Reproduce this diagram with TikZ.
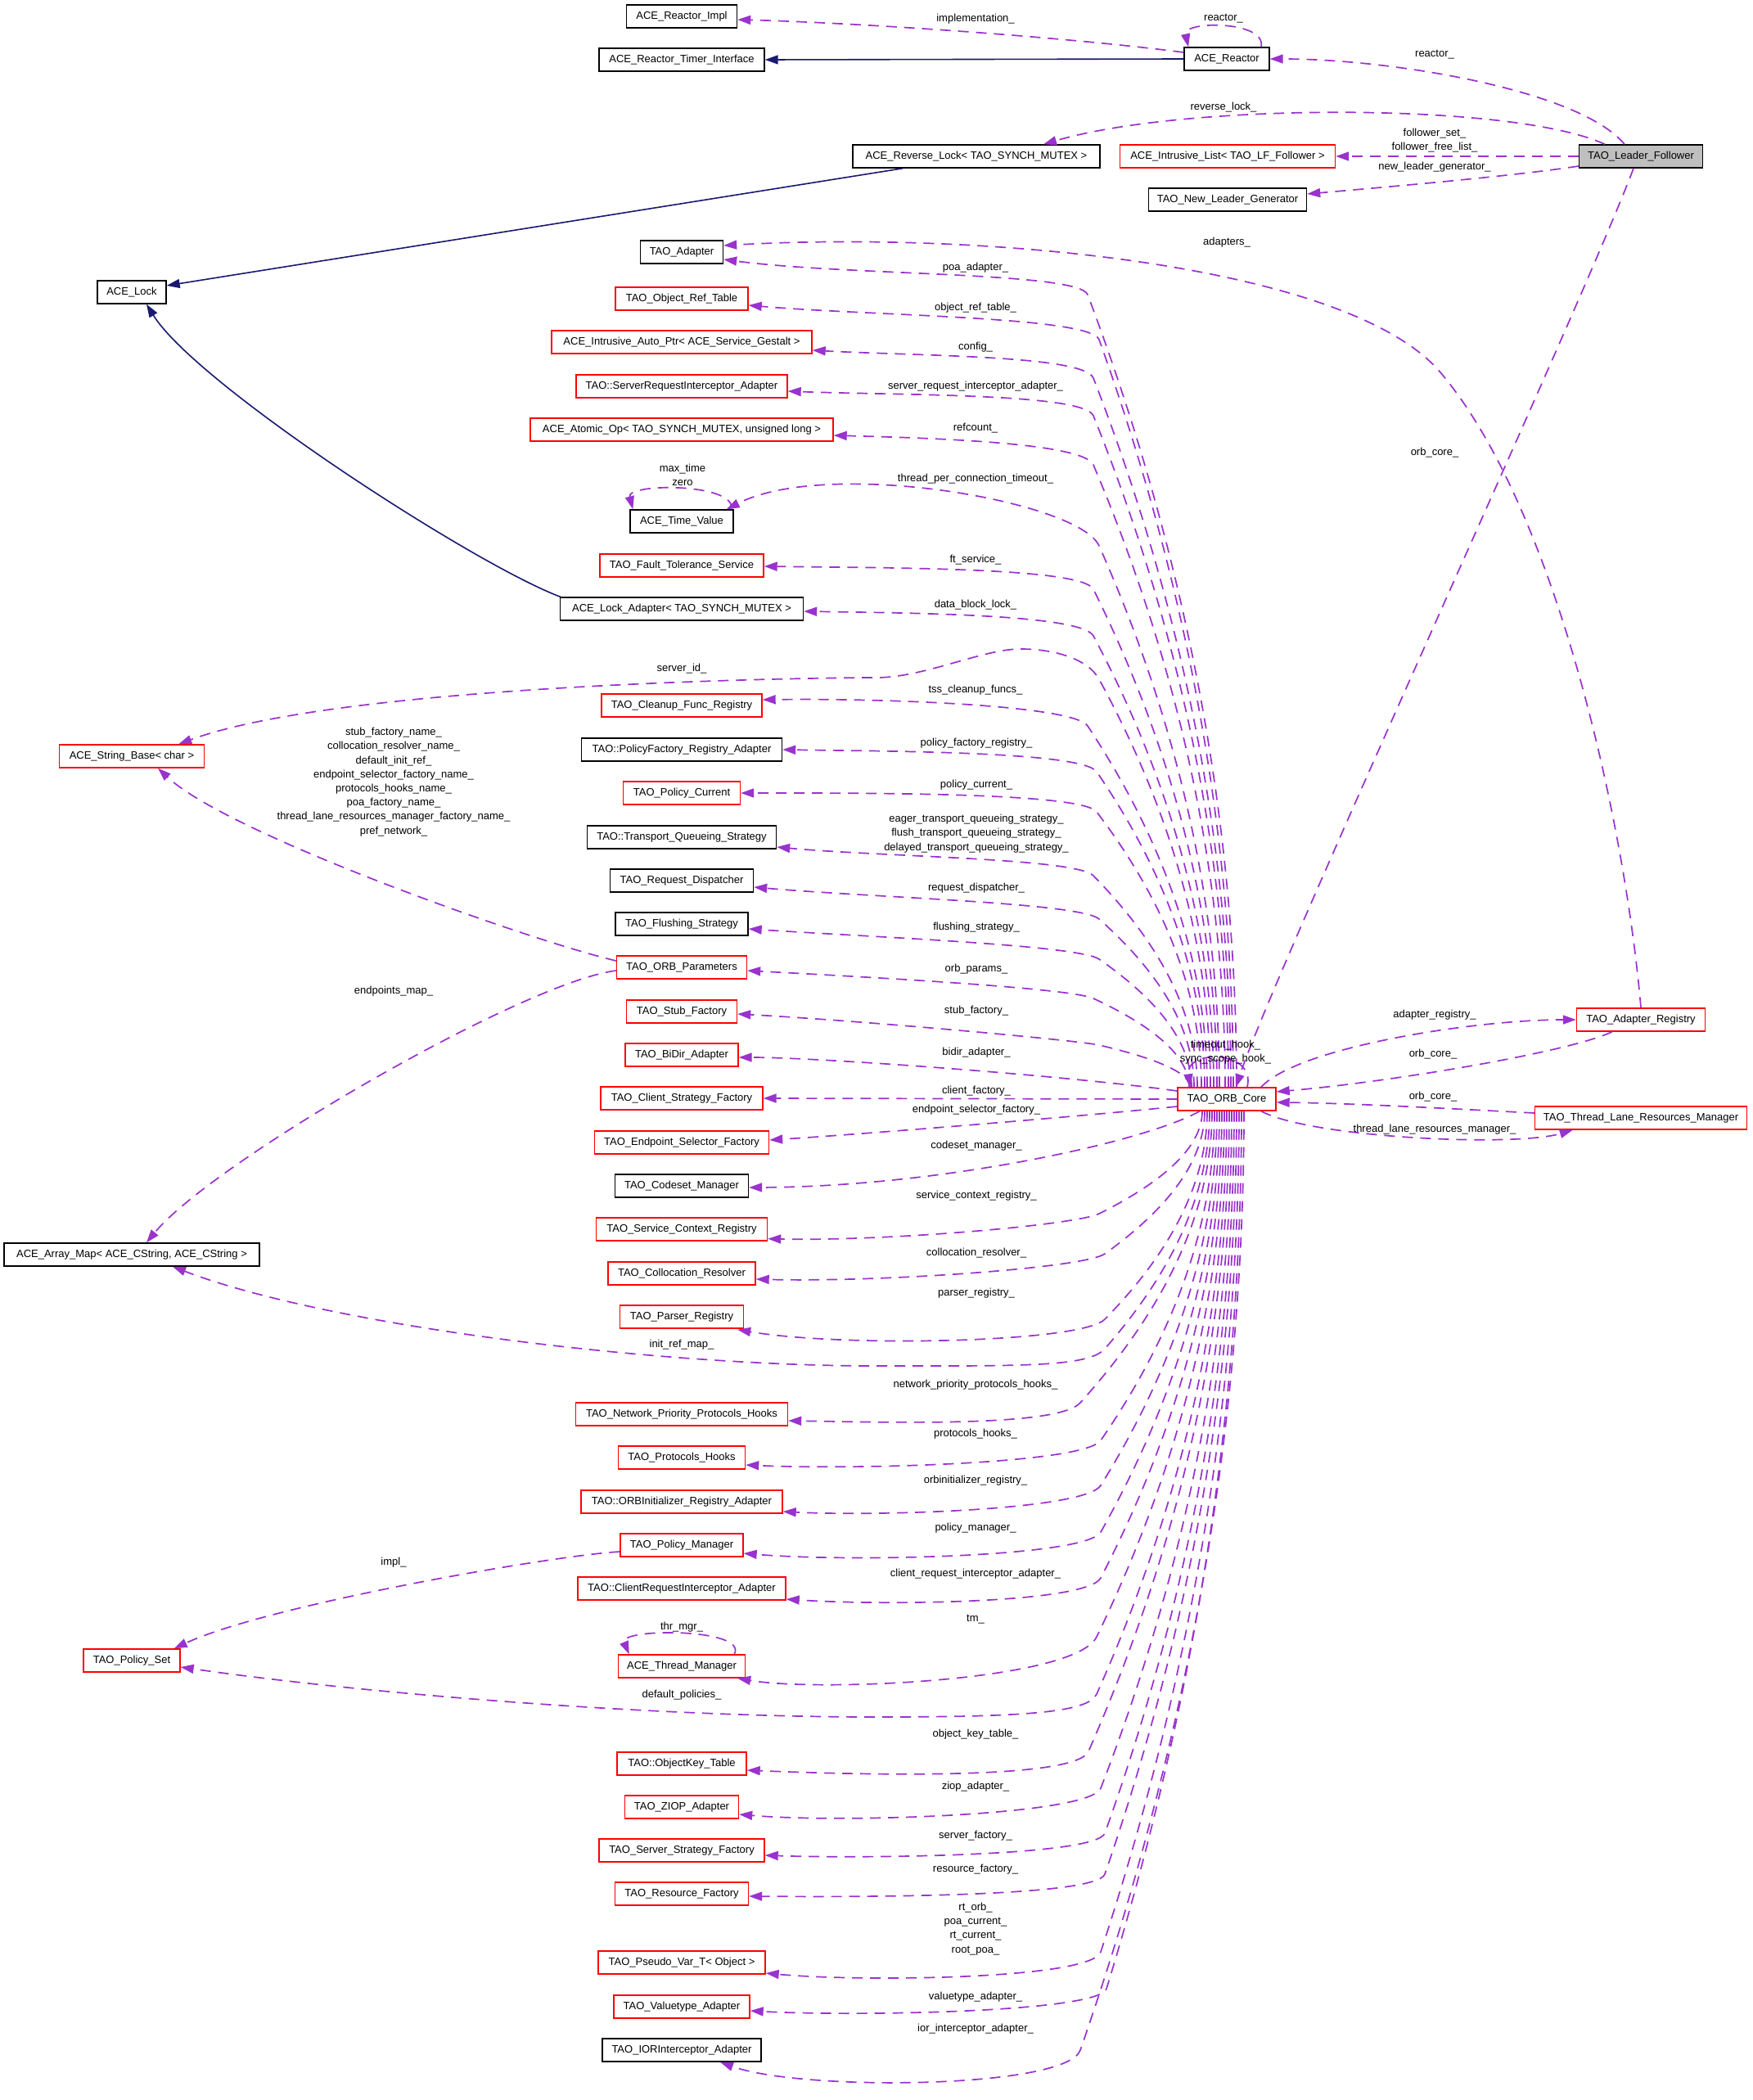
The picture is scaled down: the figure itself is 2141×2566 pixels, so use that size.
\documentclass[tikz,border=0pt]{standalone}
\usepackage{fontspec}
\setmainfont{Liberation Sans}
\usetikzlibrary{arrows.meta,calc}
\definecolor{purp}{RGB}{154,50,205}
\definecolor{navy}{RGB}{25,25,112}
\definecolor{lfgray}{RGB}{191,191,191}
\newcommand\prep[5]{%
  \pgfmathsetmacro\sxx{1499+(#3)}%
  \pgfmathsetmacro\Hh{(#2)-(#4)}%
  \pgfmathsetmacro\Cay{(#4)+\Hh/3}%
  \pgfmathsetmacro\Cbx{(#1)+2*(\sxx-(#1))/3}%
  \pgfmathsetmacro\Cby{(#2)-\Hh/3}%
  \pgfmathsetmacro\myTx{((#1)-\Cbx)/100}%
  \pgfmathsetmacro\myTy{((#2)-\Cby)/100}%
  \pgfmathsetmacro\myTl{veclen(\myTx,\myTy)}%
  \pgfmathsetmacro\Ccx{(#1)+(#5)*\myTx/\myTl}%
  \pgfmathsetmacro\Ccy{(#2)+(#5)*\myTy/\myTl}%
}
\newcommand\uped[7]{\prep{#2}{#3}{#4}{1329}{#5}%
  \draw[mem] ($(orb.north)+(#4,0)$) .. controls (\sxx,\Cay) and (\Cbx,\Cby) .. (#2,#3) .. controls (\Ccx,\Ccy) and ($(#1)+(#6,#7)$) .. (#1);}
\newcommand\loed[7]{\prep{#2}{#3}{#4}{1357}{#5}%
  \draw[mem] ($(orb.south)+(#4,0)$) .. controls (\sxx,\Cay) and (\Cbx,\Cby) .. (#2,#3) .. controls (\Ccx,\Ccy) and ($(#1)+(#6,#7)$) .. (#1);}
\begin{document}
\catcode`\_=12
\begin{tikzpicture}[x=1pt,y=-1pt,
  font=\fontsize{13}{17.2}\selectfont,
  box/.style={draw=black, line width=1.4pt, fill=white, minimum height=28pt, inner xsep=3pt, inner ysep=0pt, text height=9.6pt, text depth=2.9pt},
  rbox/.style={box, draw=red},
  mem/.style={draw=purp, line width=1.7pt, dash pattern=on 13pt off 9pt, -{Triangle[length=16pt,width=11pt]}},
  inh/.style={draw=navy, line width=1.6pt, -{Triangle[length=16pt,width=11pt]}},
  lbl/.style={inner sep=0pt, align=center}]
\useasboundingbox (0,0) rectangle (2141,2566);
\fill[white] (0,0) rectangle (2141,2566);

% ---------- nodes ----------
\node[box, minimum width=135pt] (rimpl) at (833,20) {ACE_Reactor_Impl};
\node[box, minimum width=202pt] (rti) at (833,73) {ACE_Reactor_Timer_Interface};
\node[box, minimum width=104pt] (reactor) at (1499,72) {ACE_Reactor};
\node[box, minimum width=302pt] (rlock) at (1193,191) {ACE_Reverse_Lock< TAO_SYNCH_MUTEX >};
\node[rbox, minimum width=263pt] (ilist) at (1500,191) {ACE_Intrusive_List< TAO_LF_Follower >};
\node[box, minimum width=151pt, fill=lfgray] (lf) at (2005,191) {TAO_Leader_Follower};
\node[box, minimum width=193pt] (nlg) at (1500,244) {TAO_New_Leader_Generator};
\node[box, minimum width=84pt] (alock) at (161,357) {ACE_Lock};
\node[box, minimum width=101pt] (adapter) at (833,308) {TAO_Adapter};
\node[rbox, minimum width=162pt] (ort) at (833,365) {TAO_Object_Ref_Table};
\node[rbox, minimum width=318pt] (iap) at (833,418) {ACE_Intrusive_Auto_Ptr< ACE_Service_Gestalt >};
\node[rbox, minimum width=258pt] (sria) at (833,472) {TAO::ServerRequestInterceptor_Adapter};
\node[rbox, minimum width=370pt] (aop) at (833,525) {ACE_Atomic_Op< TAO_SYNCH_MUTEX, unsigned long >};
\node[box, minimum width=126pt] (tv) at (833,637) {ACE_Time_Value};
\node[rbox, minimum width=200pt] (fts) at (833,691) {TAO_Fault_Tolerance_Service};
\node[box, minimum width=297pt] (ladapt) at (833,744) {ACE_Lock_Adapter< TAO_SYNCH_MUTEX >};
\node[rbox, minimum width=196pt] (cfr) at (833,862) {TAO_Cleanup_Func_Registry};
\node[rbox, minimum width=177pt] (sbase) at (161,924) {ACE_String_Base< char >};
\node[box, minimum width=245pt] (pfra) at (833,916) {TAO::PolicyFactory_Registry_Adapter};
\node[rbox, minimum width=143pt] (pcur) at (833,969) {TAO_Policy_Current};
\node[box, minimum width=231pt] (tqs) at (833,1023) {TAO::Transport_Queueing_Strategy};
\node[box, minimum width=175pt] (rdisp) at (833,1076) {TAO_Request_Dispatcher};
\node[box, minimum width=162pt] (fstrat) at (833,1129) {TAO_Flushing_Strategy};
\node[rbox, minimum width=159pt] (orbp) at (833,1182) {TAO_ORB_Parameters};
\node[rbox, minimum width=135pt] (stubf) at (833,1236) {TAO_Stub_Factory};
\node[rbox, minimum width=138pt] (bidir) at (833,1289) {TAO_BiDir_Adapter};
\node[rbox, minimum width=198pt] (csf) at (833,1342) {TAO_Client_Strategy_Factory};
\node[rbox, minimum width=213pt] (esf) at (833,1396) {TAO_Endpoint_Selector_Factory};
\node[box, minimum width=163pt] (csm) at (833,1449) {TAO_Codeset_Manager};
\node[rbox, minimum width=209pt] (scr) at (833,1502) {TAO_Service_Context_Registry};
\node[rbox, minimum width=180pt] (cres) at (833,1556) {TAO_Collocation_Resolver};
\node[rbox, minimum width=151pt] (preg) at (833,1609) {TAO_Parser_Registry};
\node[box, minimum width=312pt] (amap) at (161,1533) {ACE_Array_Map< ACE_CString, ACE_CString >};
\node[rbox, minimum width=259pt] (nppi) at (833,1728) {TAO_Network_Priority_Protocols_Hooks};
\node[rbox, minimum width=155pt] (phooks) at (833,1781) {TAO_Protocols_Hooks};
\node[rbox, minimum width=246pt] (oira) at (833,1835) {TAO::ORBInitializer_Registry_Adapter};
\node[rbox, minimum width=150pt] (pman) at (833,1888) {TAO_Policy_Manager};
\node[rbox, minimum width=254pt] (cria) at (833,1941) {TAO::ClientRequestInterceptor_Adapter};
\node[rbox, minimum width=155pt] (tman) at (833,2036) {ACE_Thread_Manager};
\node[rbox, minimum width=118pt] (pset) at (161,2029) {TAO_Policy_Set};
\node[rbox, minimum width=158pt] (okt) at (833,2155) {TAO::ObjectKey_Table};
\node[rbox, minimum width=139pt] (ziop) at (833,2208) {TAO_ZIOP_Adapter};
\node[rbox, minimum width=202pt] (ssf) at (833,2261) {TAO_Server_Strategy_Factory};
\node[rbox, minimum width=163pt] (rfac) at (833,2314) {TAO_Resource_Factory};
\node[rbox, minimum width=204pt] (pvar) at (833,2398) {TAO_Pseudo_Var_T< Object >};
\node[rbox, minimum width=166pt] (vta) at (833,2452) {TAO_Valuetype_Adapter};
\node[box, minimum width=194pt] (iora) at (833,2505) {TAO_IORInterceptor_Adapter};
\node[rbox, minimum width=120pt] (orb) at (1499,1343) {TAO_ORB_Core};
\node[rbox, minimum width=157pt] (areg) at (2005,1246) {TAO_Adapter_Registry};
\node[rbox, minimum width=259pt] (tlrm) at (2005,1366) {TAO_Thread_Lane_Resources_Manager};

% ---------- top group edges ----------
\draw[mem] ($(lf.north)+(-20,0)$) .. controls (1930,110) and (1700,72) .. (reactor.east);
\draw[mem] ($(lf.north)+(-44,0)$) .. controls (1850,125) and (1450,125) .. ($(rlock.north)+(82,0)$);
\draw[mem] (lf.west) -- (ilist.east);
\draw[mem] ($(lf.west)+(0,12)$) .. controls (1850,215) and (1700,228) .. ($(nlg.east)+(0,-7)$);
\draw[mem] ($(lf.south)+(-9,0)$) .. controls (1930,380) and (1560,1180) .. ($(orb.north)+(11,0)$);
\draw[mem] ($(reactor.west)+(0,-8)$) .. controls (1300,45) and (1050,28) .. ($(rimpl.east)+(0,4)$);
\draw[mem] ($(reactor.north)+(42,0)$) .. controls (1548,25) and (1445,25) .. ($(reactor.north)+(-47,0)$);
\draw[inh] (reactor.west) -- (rti.east);
\draw[inh] ($(rlock.south west)+(62,0)$) -- ($(alock.east)+(0,-8)$);
\draw[inh] ($(ladapt.north west)+(1,0)$) .. controls (580,690) and (240,470) .. ($(alock.south)+(18,0)$);

% ---------- self loops ----------
\draw[mem] ($(tv.north east)+(-3,0)$) .. controls (900,590) and (765,590) .. ($(tv.north west)+(4,0)$);
\draw[mem] ($(tman.north east)+(-14,0)$) .. controls (915,1989) and (755,1989) .. ($(tman.north west)+(14,0)$);
\draw[mem] ($(orb.north)+(25,0)$) .. controls (1535,1282) and (1448,1282) .. ($(orb.north)+(-45,0)$);

% ---------- other left edges ----------
\draw[mem] ($(orbp.west)+(0,-8)$) .. controls (650,1150) and (280,1020) .. ($(sbase.south)+(32,0)$);
\draw[mem] ($(orbp.west)+(0,4)$) .. controls (640,1200) and (260,1420) .. ($(amap.north)+(18,0)$);
\draw[mem] ($(pman.west)+(0,8)$) .. controls (680,1900) and (330,1960) .. ($(pset.north east)+(-8,0)$);
\draw[mem] (areg.north) .. controls (1985,1000) and (1900,620) .. (1760,455) .. controls (1648,323) and (1200,282) .. ($(adapter.east)+(0,-8)$);

% ---------- ORB right side ----------
\draw[mem] ($(orb.north)+(42,0)$) .. controls (1585,1280) and (1800,1246) .. (areg.west);
\draw[mem] ($(areg.south west)+(44,0)$) .. controls (1920,1285) and (1700,1322) .. ($(orb.east)+(0,-9)$);
\draw[mem] ($(tlrm.west)+(0,-6)$) .. controls (1760,1354) and (1650,1348) .. ($(orb.east)+(0,4)$);
\draw[mem] ($(orb.south)+(42,0)$) .. controls (1600,1390) and (1850,1402) .. ($(tlrm.south west)+(47,0)$);

% ---------- ORB upper bundle ----------
\coordinate (E1) at ($(adapter.east)+(0,9)$); \uped{E1}{1329}{360}{12}{30}{150}{20}
\coordinate (E2) at ($(ort.east)+(0,8)$); \uped{E2}{1343}{415}{8}{30}{150}{13}
\coordinate (E3) at ($(iap.east)+(0,10)$); \uped{E3}{1336}{462}{5}{30}{130}{7}
\coordinate (E4) at ($(sria.east)+(0,6)$); \uped{E4}{1336}{508}{2}{30}{130}{5}
\coordinate (E5) at ($(aop.east)+(0,7)$); \uped{E5}{1336}{568}{-2}{30}{110}{3}
\coordinate (E6) at ($(tv.north east)+(-9,0)$);
\prep{1343}{667}{-9}{1329}{60}
\draw[mem] ($(orb.north)+(-9,0)$) .. controls (\sxx,\Cay) and (\Cbx,\Cby) .. (1343,667) .. controls (\Ccx,\Ccy) and ($(E6)+(123,-63)$) .. (E6);
\coordinate (E7) at ($(fts.east)+(0,1)$); \uped{E7}{1336}{720}{-12}{30}{150}{2}
\coordinate (E8) at ($(ladapt.east)+(0,3)$); \uped{E8}{1336}{777}{-16}{30}{130}{2}
\coordinate (E9) at ($(sbase.north east)+(-32,0)$);
\prep{1343}{830}{-20}{1329}{30}
\draw[mem] ($(orb.north)+(-20,0)$) .. controls (\sxx,\Cay) and (\Cbx,\Cby) .. (1343,830) .. controls (\Ccx,\Ccy) and (1285,793) .. (1247,793) .. controls (1200,793) and (1130,828) .. (1070,828) .. controls (1000,828) and (420,835) .. (E9);
\coordinate (E10) at ($(cfr.east)+(0,-7)$); \uped{E10}{1329}{887}{-24}{30}{150}{-2}
\uped{pfra.east}{1340}{943}{-27}{30}{130}{2}
\uped{pcur.east}{1340}{992}{-31}{30}{150}{0}
\coordinate (E13) at ($(tqs.east)+(0,12)$); \uped{E13}{1336}{1070}{-36}{30}{130}{12}
\coordinate (E14) at ($(rdisp.east)+(0,8)$); \uped{E14}{1343}{1123}{-40}{30}{150}{13}
\coordinate (E15) at ($(fstrat.east)+(0,6)$); \uped{E15}{1343}{1172}{-43}{30}{150}{10}
\coordinate (E16) at ($(orbp.east)+(0,4)$); \uped{E16}{1336}{1220}{-46}{30}{150}{8}
\coordinate (E17) at ($(stubf.east)+(0,3)$); \uped{E17}{1343}{1277}{-45}{25}{150}{8}

% ---------- ORB left, near ----------
\draw[mem] ($(orb.west)+(0,-10)$) .. controls (1300,1314) and (1000,1292) .. ($(bidir.east)+(0,3)$);
\draw[mem] (orb.west) -- (csf.east);
\draw[mem] ($(orb.west)+(0,9)$) .. controls (1300,1366) and (1050,1386) .. ($(esf.east)+(0,-3)$);
\draw[mem] ($(orb.south)+(-33,0)$) .. controls (1400,1395) and (1150,1450) .. ($(csm.east)+(0,2)$);

% ---------- ORB lower bundle ----------
\coordinate (E22) at ($(scr.south east)+(0,-3)$); \loed{E22}{1343}{1483}{-30}{30}{150}{3}
\coordinate (E23) at ($(cres.east)+(0,7)$); \loed{E23}{1350}{1532}{-27}{30}{150}{4}
\coordinate (E24) at ($(preg.south east)+(-8,1)$); \loed{E24}{1350}{1612}{-24}{40}{130}{22}
\coordinate (E25) at ($(amap.south)+(50,0)$);
\prep{1350}{1648}{-21}{1357}{30}
\draw[mem] ($(orb.south)+(-21,0)$) .. controls (\sxx,\Cay) and (\Cbx,\Cby) .. (1350,1648) .. controls (\Ccx,\Ccy) and (1250,1669) .. (1070,1669) .. controls (800,1669) and (400,1620) .. (E25);
\coordinate (E26) at ($(nppi.east)+(0,8)$); \loed{E26}{1320}{1714}{-18}{40}{130}{2}
\coordinate (E27) at ($(phooks.east)+(0,9)$); \loed{E27}{1345}{1760}{-15}{35}{130}{6}
\coordinate (E28) at ($(oira.east)+(0,12)$); \loed{E28}{1345}{1815}{-12}{35}{120}{6}
\coordinate (E29) at ($(pman.east)+(0,10)$); \loed{E29}{1345}{1872}{-9}{35}{130}{11}
\coordinate (E30) at ($(cria.east)+(0,13)$); \loed{E30}{1345}{1928}{-6}{35}{120}{8}
\coordinate (E31) at ($(tman.south east)+(-10,0)$); \loed{E31}{1340}{2000}{-3}{60}{100}{17}
\coordinate (E32) at ($(pset.east)+(0,8)$);
\prep{1340}{2070}{0}{1357}{25}
\draw[mem] (orb.south) .. controls (\sxx,\Cay) and (\Cbx,\Cby) .. (1340,2070) .. controls (\Ccx,\Ccy) and (1250,2098) .. (1070,2098) .. controls (800,2098) and (450,2070) .. (E32);
\coordinate (E33) at ($(okt.east)+(0,8)$); \loed{E33}{1330}{2140}{3}{40}{120}{5}
\coordinate (E34) at ($(ziop.east)+(0,9)$); \loed{E34}{1345}{2185}{6}{35}{130}{11}
\coordinate (E35) at ($(ssf.east)+(0,6)$); \loed{E35}{1350}{2240}{9}{30}{120}{4}
\coordinate (E36) at ($(rfac.east)+(0,3)$); \loed{E36}{1350}{2290}{12}{30}{130}{1}
\coordinate (E37) at ($(pvar.east)+(0,13)$); \loed{E37}{1345}{2385}{15}{35}{120}{11}
\coordinate (E38) at ($(vta.east)+(0,5)$); \loed{E38}{1352}{2430}{18}{30}{130}{7}
\coordinate (E39) at ($(iora.south)+(47,0)$); \loed{E39}{1320}{2505}{21}{50}{100}{36}

% ---------- labels ----------
\node[lbl] (L1) at (1192,23) {implementation_};
\node[lbl] (L2) at (1495,23) {reactor_};
\node[lbl] (L3) at (1753,67) {reactor_};
\node[lbl] (L4) at (1495,131) {reverse_lock_};
\node[lbl] (L5) at (1753,171.5) {follower_set_\\follower_free_list_};
\node[lbl] (L6) at (1753,204) {new_leader_generator_};
\node[lbl] (L7) at (1499,296) {adapters_};
\node[lbl] (L8) at (1192,327) {poa_adapter_};
\node[lbl] (L9) at (1192,376) {object_ref_table_};
\node[lbl] (L10) at (1192,424) {config_};
\node[lbl] (L11) at (1192,472) {server_request_interceptor_adapter_};
\node[lbl] (L12) at (1192,523) {refcount_};
\node[lbl] (L13) at (1753,553) {orb_core_};
\node[lbl] (L14) at (834,580.5) {max_time\\zero};
\node[lbl] (L15) at (1192,585) {thread_per_connection_timeout_};
\node[lbl] (L16) at (1192,684) {ft_service_};
\node[lbl] (L17) at (1192,739) {data_block_lock_};
\node[lbl] (L18) at (833,817) {server_id_};
\node[lbl] (L19) at (1192,843) {tss_cleanup_funcs_};
\node[lbl] (L20) at (481,955.5) {stub_factory_name_\\collocation_resolver_name_\\default_init_ref_\\endpoint_selector_factory_name_\\protocols_hooks_name_\\poa_factory_name_\\thread_lane_resources_manager_factory_name_\\pref_network_};
\node[lbl] (L21) at (1193,908) {policy_factory_registry_};
\node[lbl] (L22) at (1193,959) {policy_current_};
\node[lbl] (L23) at (1193,1018.5) {eager_transport_queueing_strategy_\\flush_transport_queueing_strategy_\\delayed_transport_queueing_strategy_};
\node[lbl] (L24) at (1193,1085) {request_dispatcher_};
\node[lbl] (L25) at (1193,1133) {flushing_strategy_};
\node[lbl] (L26) at (1193,1184) {orb_params_};
\node[lbl] (L27) at (481,1211) {endpoints_map_};
\node[lbl] (L28) at (1193,1235) {stub_factory_};
\node[lbl] (L29) at (1753,1240) {adapter_registry_};
\node[lbl] (L30) at (1497.5,1286) {timeout_hook_\\sync_scope_hook_};
\node[lbl] (L31) at (1193,1286) {bidir_adapter_};
\node[lbl] (L32) at (1751,1288) {orb_core_};
\node[lbl] (L33) at (1193,1333) {client_factory_};
\node[lbl] (L34) at (1751,1340) {orb_core_};
\node[lbl] (L35) at (1193,1356) {endpoint_selector_factory_};
\node[lbl] (L36) at (1753,1380) {thread_lane_resources_manager_};
\node[lbl] (L37) at (1193,1400) {codeset_manager_};
\node[lbl] (L38) at (1193,1461) {service_context_registry_};
\node[lbl] (L39) at (1193,1531) {collocation_resolver_};
\node[lbl] (L40) at (1193,1580) {parser_registry_};
\node[lbl] (L41) at (833,1643) {init_ref_map_};
\node[lbl] (L42) at (1192,1692) {network_priority_protocols_hooks_};
\node[lbl] (L43) at (1192,1752) {protocols_hooks_};
\node[lbl] (L44) at (1192,1809) {orbinitializer_registry_};
\node[lbl] (L45) at (1192,1867) {policy_manager_};
\node[lbl] (L46) at (481,1909) {impl_};
\node[lbl] (L47) at (1192,1923) {client_request_interceptor_adapter_};
\node[lbl] (L48) at (1192,1979) {tm_};
\node[lbl] (L49) at (833,1988) {thr_mgr_};
\node[lbl] (L50) at (833,2071) {default_policies_};
\node[lbl] (L51) at (1192,2119) {object_key_table_};
\node[lbl] (L52) at (1192,2183) {ziop_adapter_};
\node[lbl] (L53) at (1192,2243) {server_factory_};
\node[lbl] (L54) at (1192,2284) {resource_factory_};
\node[lbl] (L55) at (1192,2357) {rt_orb_\\poa_current_\\rt_current_\\root_poa_};
\node[lbl] (L56) at (1192,2440) {valuetype_adapter_};
\node[lbl] (L57) at (1192,2479) {ior_interceptor_adapter_};
\end{tikzpicture}
\end{document}
